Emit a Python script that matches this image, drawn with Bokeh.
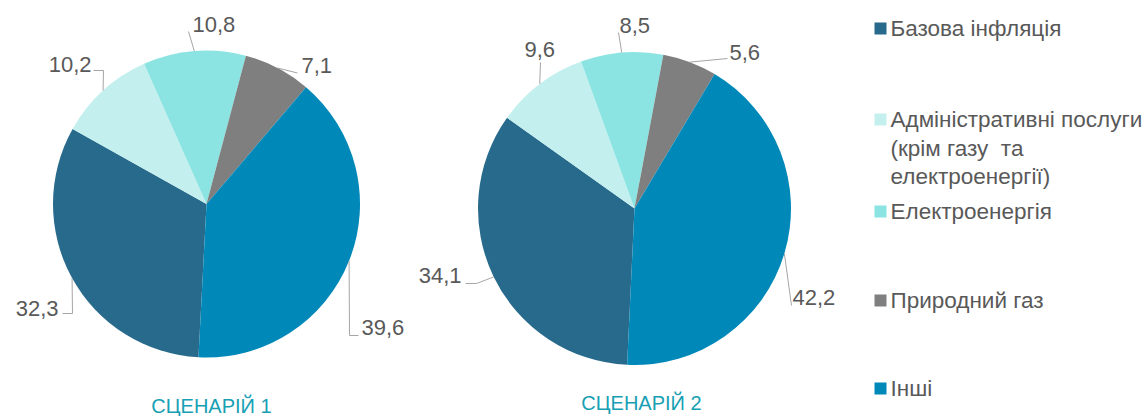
import math
from bokeh.plotting import figure
from bokeh.models import Range1d, ColumnDataSource
from bokeh.core.properties import value
from bokeh.embed import file_html
from bokeh.resources import INLINE

# ---------------- data ----------------
categories = ["Базова інфляція",
              "Адміністративні послуги\n(крім газу  та\nелектроенергії)",
              "Електроенергія",
              "Природний газ",
              "Інші"]
scenario1 = [32.3, 10.2, 10.8, 7.1, 39.6]
scenario2 = [34.1, 9.6, 8.5, 5.6, 42.2]
titles = ["СЦЕНАРІЙ 1", "СЦЕНАРІЙ 2"]
colors = ["#286a8c", "#c3efee", "#8ce4e2", "#7f7f7f", "#0088b8"]

# ---------------- layout (page px) ----------------
FONT = value("Liberation Sans")
pies = [
    dict(vals=scenario1, cx=206, cy=203.5, r=153.5, start=183.0,
         title_xy=(211, 405),
         text=[(58, 308, "right"), (91, 64, "right"), (192, 24, "left"),
               (301, 65, "left"), (361, 327, "left")],
         lead=[[(72, 313), (62, 313)], [(103, 70), (93, 70)], [(188, 31)],
               [(297, 72.5)], [(349, 335), (358, 335)]]),
    dict(vals=scenario2, cx=634, cy=208, r=156.5, start=182.7,
         title_xy=(641, 402),
         text=[(461, 275, "right"), (524, 49, "left"), (619, 25, "left"),
               (729, 52, "left"), (792, 297, "left")],
         lead=[[(476, 283), (465, 283)], [(540, 62)], [(618, 32)],
               [(727, 58)], [(791, 305)]]),
]
legend_x = 880
legend_y = [28, 119, 211, 300, 388]
line_h = 28.5

W, H = 1144, 416
p = figure(width=W, height=H, x_range=Range1d(0, W), y_range=Range1d(-H, 0),
           min_border=0, toolbar_location=None, output_backend="svg",
           x_axis_location=None, y_axis_location=None)
p.outline_line_color = None
p.xgrid.visible = False
p.ygrid.visible = False
p.background_fill_color = "white"

for pie in pies:
    vals = pie["vals"]
    total = sum(vals)
    a0 = pie["start"]
    starts, ends, mids = [], [], []
    for v in vals:
        a1 = a0 + 360.0 * v / total
        starts.append(math.radians(90 - a0))
        ends.append(math.radians(90 - a1))
        mids.append((a0 + a1) / 2)
        a0 = a1
    src = ColumnDataSource(dict(x=[pie["cx"]] * len(vals), y=[-pie["cy"]] * len(vals),
                                s=starts, e=ends, c=colors))
    p.wedge(x="x", y="y", radius=pie["r"], start_angle="s", end_angle="e",
            direction="clock", fill_color="c", line_color=None, source=src)

    # leader lines
    xs, ys = [], []
    for m, pts in zip(mids, pie["lead"]):
        ex = pie["cx"] + pie["r"] * math.sin(math.radians(m))
        ey = pie["cy"] - pie["r"] * math.cos(math.radians(m))
        xs.append([ex] + [q[0] for q in pts])
        ys.append([-ey] + [-q[1] for q in pts])
    p.multi_line(xs=xs, ys=ys, line_color="#a6a6a6", line_width=1)

    # labels
    for v, (tx, ty, al) in zip(vals, pie["text"]):
        p.text(x=[tx], y=[-ty], text=[f"{v:.1f}".replace(".", ",")],
               text_font=FONT, text_font_size="22px", text_color="#595959",
               text_align=al, text_baseline="middle")

for t, pie in zip(titles, pies):
    tx, ty = pie["title_xy"]
    p.text(x=[tx], y=[-ty], text=[t], text_font=FONT, text_font_size="20px",
           text_color="#17a0b4", text_align="center", text_baseline="middle")

# legend
for cat, col, ly in zip(categories, colors, legend_y):
    p.rect(x=[legend_x], y=[-ly], width=12, height=12, fill_color=col, line_color=None)
    for i, line in enumerate(cat.split("\n")):
        p.text(x=[legend_x + 10], y=[-(ly + i * line_h)], text=[line.replace("  ", " \u00a0")],
               text_font=FONT, text_font_size="22.5px", text_color="#595959",
               text_align="left", text_baseline="middle")

open("out.html", "w").write(file_html(p, INLINE))
